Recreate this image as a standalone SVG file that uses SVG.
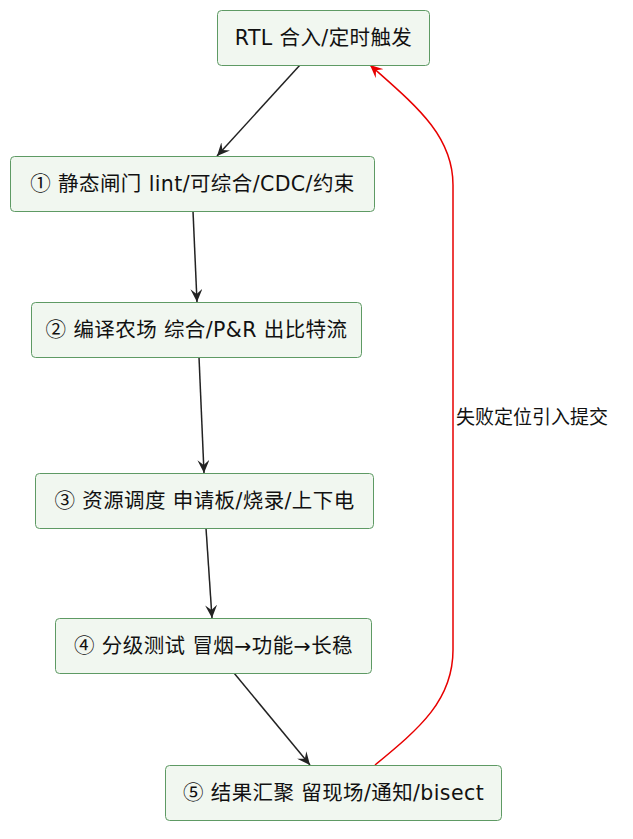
<svg xmlns="http://www.w3.org/2000/svg" width="633" height="839" viewBox="0 0 633 839">
<defs>
<style>
.n rect{fill:#F1F7F0;stroke:#5E9A64;stroke-width:1}
.n text{font-family:"DejaVu Sans","Noto Sans CJK SC",sans-serif;font-size:20.5px;letter-spacing:0.4px;fill:#111;text-anchor:middle}
.c{font-family:"Noto Sans CJK SC",sans-serif}
.e{fill:none;stroke:#222;stroke-width:1.5}
.r{fill:none;stroke:#E80000;stroke-width:1.5}
.lbl{font-family:"DejaVu Sans","Noto Sans CJK SC",sans-serif;font-size:19px;fill:#111}
</style>
<marker id="ab" markerUnits="userSpaceOnUse" markerWidth="14" markerHeight="12" viewBox="0 0 14 12" refX="13" refY="6" orient="auto">
<path d="M0,0 L13,6 L0,12 L5,6 Z" fill="#222"/>
</marker>
<marker id="ar" markerUnits="userSpaceOnUse" markerWidth="14" markerHeight="12" viewBox="0 0 14 12" refX="13" refY="6" orient="auto">
<path d="M0,0 L13,6 L0,12 L5,6 Z" fill="#E80000"/>
</marker>
</defs>
<rect width="633" height="839" fill="#fff"/>
<g id="edges">
<path class="e" d="M300,65 L217,156" marker-end="url(#ab)"/>
<path class="e" d="M193,211 L197,302" marker-end="url(#ab)"/>
<path class="e" d="M199,357 L204,473" marker-end="url(#ab)"/>
<path class="e" d="M206,528 L212,618" marker-end="url(#ab)"/>
<path class="e" d="M234,673 L310,765" marker-end="url(#ab)"/>
<path class="r" d="M375,765 C420,728 453,700 453,650 L453,185 C453,135 415,105 370,65" marker-end="url(#ar)"/>
<text class="lbl" x="456" y="424">失败定位引入提交</text>
</g>
<g id="n0" class="n"><rect x="217.5" y="10.5" width="212" height="55" rx="4"/><text x="323.5" y="45">RTL 合入/定时触发</text></g>
<g id="n1" class="n"><rect x="10.5" y="156.5" width="364" height="55" rx="4"/><text x="192.5" y="191"><tspan class="c">①</tspan> 静态闸门 lint/可综合/CDC/约束</text></g>
<g id="n2" class="n"><rect x="31.5" y="302.5" width="330" height="55" rx="4"/><text x="196.5" y="337"><tspan class="c">②</tspan> 编译农场 综合/P&amp;R 出比特流</text></g>
<g id="n3" class="n"><rect x="35.5" y="473.5" width="338" height="55" rx="4"/><text x="204.5" y="508"><tspan class="c">③</tspan> 资源调度 申请板/烧录/上下电</text></g>
<g id="n4" class="n"><rect x="55.5" y="618.5" width="316" height="55" rx="4"/><text x="213.5" y="653"><tspan class="c">④</tspan> 分级测试 冒烟→功能→长稳</text></g>
<g id="n5" class="n"><rect x="165.5" y="765.5" width="336" height="55" rx="4"/><text x="333.5" y="800"><tspan class="c">⑤</tspan> 结果汇聚 留现场/通知/bisect</text></g>
</svg>
